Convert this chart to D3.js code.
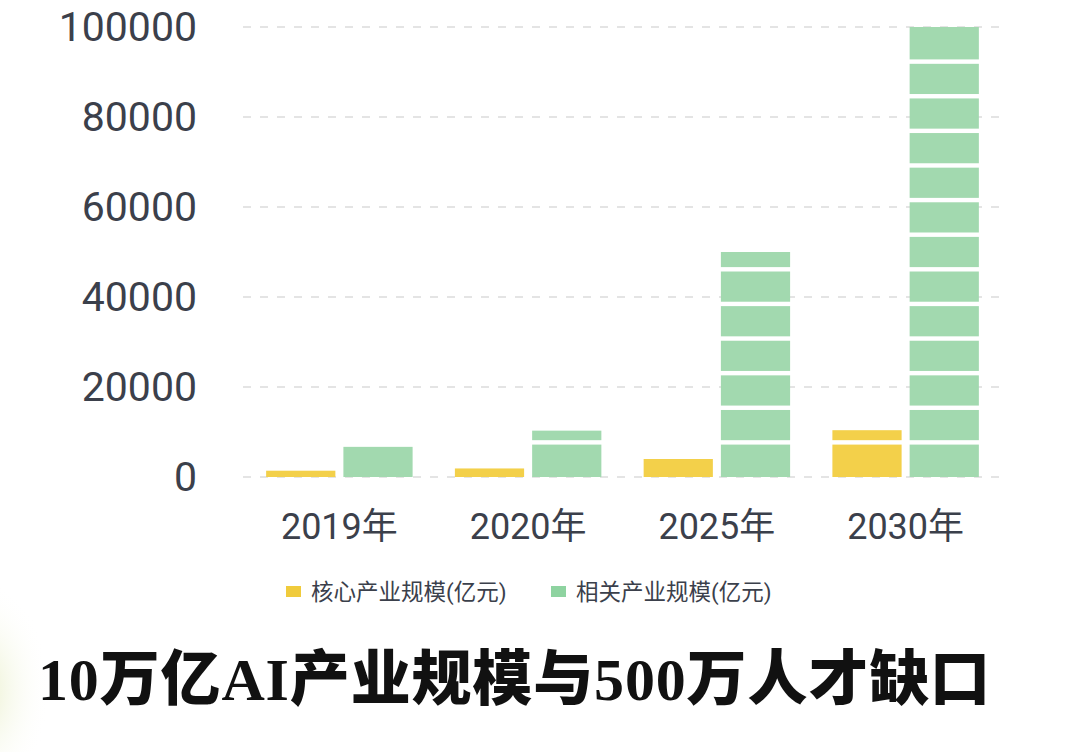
<!DOCTYPE html>
<html>
<head>
<meta charset="utf-8">
<script src="https://cdn.jsdelivr.net/npm/d3@7"></script>
<style>
  html, body { margin: 0; padding: 0; background: #fff; }
  #wrapper { width: 1080px; height: 752px; overflow: hidden; }
</style>
</head>
<body>
<div id="wrapper"></div>
<script>
// Data
const categories = ["2019年", "2020年", "2025年", "2030年"];
const coreValues = [1400, 1900, 4000, 10400];       // 核心产业规模(亿元)
const relatedValues = [6700, 10300, 50000, 100000]; // 相关产业规模(亿元)
const seriesNames = ["核心产业规模(亿元)", "相关产业规模(亿元)"];
const yTicks = [0, 20000, 40000, 60000, 80000, 100000];
const titleText = "10万亿AI产业规模与500万人才缺口";

const colors = ["#f3d04a", "#a2d9af"];
const legendColors = ["#f0cb3c", "#8ed3a0"];
const textColor = "#3b404b";

const drawChart = () => {
    const dimensions = {
        width: 1080,
        height: 752,
        margin: { top: 27, right: 80, bottom: 275, left: 245 },
    };
    dimensions.boundedWidth = dimensions.width - dimensions.margin.left - dimensions.margin.right;
    dimensions.boundedHeight = dimensions.height - dimensions.margin.top - dimensions.margin.bottom;

    const dataset = categories.map((c, i) => ({
        category: c,
        values: [coreValues[i], relatedValues[i]],
    }));

    const wrapper = d3.select("#wrapper")
        .append("svg")
        .attr("width", dimensions.width)
        .attr("height", dimensions.height);

    // faint tint in the lower left corner
    const defs = wrapper.append("defs");
    const grad = defs.append("radialGradient")
        .attr("id", "cornerTint")
        .attr("gradientUnits", "userSpaceOnUse")
        .attr("cx", -20).attr("cy", 690).attr("r", 70)
        .attr("gradientTransform", "translate(-20 690) scale(1 1.6) translate(20 -690)");
    grad.append("stop").attr("offset", "0%").attr("stop-color", "#e9efc9").attr("stop-opacity", 1);
    grad.append("stop").attr("offset", "100%").attr("stop-color", "#ffffff").attr("stop-opacity", 0);
    wrapper.append("rect")
        .attr("x", 0).attr("y", 540)
        .attr("width", 120).attr("height", 212)
        .attr("fill", "url(#cornerTint)");

    const bounds = wrapper.append("g")
        .attr("transform", `translate(${dimensions.margin.left}, ${dimensions.margin.top})`);

    // Scales
    const yScale = d3.scaleLinear()
        .domain([0, 100000])
        .range([dimensions.boundedHeight, 0]);

    const x0 = d3.scaleBand()
        .domain(categories)
        .range([0, dimensions.boundedWidth]);

    const x1 = d3.scaleBand()
        .domain([0, 1])
        .range([x0.bandwidth() * 0.112, x0.bandwidth() * 0.888])
        .paddingInner(0.104);

    // Grid lines
    bounds.append("g")
        .selectAll("line")
        .data(yTicks)
        .join("line")
        .attr("x1", -2)
        .attr("x2", dimensions.boundedWidth)
        .attr("y1", d => yScale(d))
        .attr("y2", d => yScale(d))
        .attr("stroke", "#dcdcdc")
        .attr("stroke-width", 1.6)
        .attr("stroke-dasharray", "8 9");

    // y axis labels
    const yAxisGenerator = d3.axisLeft(yScale)
        .tickValues(yTicks)
        .tickSize(0)
        .tickPadding(48)
        .tickFormat(d3.format("d"));
    const yAxis = bounds.append("g").call(yAxisGenerator);
    yAxis.select(".domain").remove();
    yAxis.selectAll("text")
        .attr("fill", textColor)
        .style("font-family", "Roboto, 'Noto Sans', sans-serif")
        .style("font-size", "41px");

    // Bars
    const groups = bounds.selectAll(".group")
        .data(dataset)
        .join("g")
        .attr("class", "group")
        .attr("transform", d => `translate(${x0(d.category)}, 0)`);

    const segment = 100000 / 13;
    const gapValues = d3.range(1, 13).map(k => k * segment);

    groups.each(function (d) {
        const g = d3.select(this);
        d.values.forEach((v, i) => {
            g.append("rect")
                .attr("x", x1(i))
                .attr("y", yScale(v))
                .attr("width", x1.bandwidth())
                .attr("height", yScale(0) - yScale(v))
                .attr("fill", colors[i]);
            // white separators cut into the bar
            g.selectAll(null)
                .data(gapValues.filter(gv => gv < v - 1500))
                .join("rect")
                .attr("x", x1(i) - 1)
                .attr("y", gv => yScale(gv) - 2.2)
                .attr("width", x1.bandwidth() + 2)
                .attr("height", 4.4)
                .attr("fill", "#ffffff");
        });
    });

    // x axis labels
    const xAxisGenerator = d3.axisBottom(x0)
        .tickSize(0)
        .tickPadding(36);
    const xAxis = bounds.append("g")
        .attr("transform", `translate(0, ${dimensions.boundedHeight})`)
        .call(xAxisGenerator);
    xAxis.select(".domain").remove();
    xAxis.selectAll("text")
        .attr("fill", textColor)
        .style("font-family", "Roboto, 'Noto Sans CJK SC', sans-serif")
        .style("font-size", "36px");

    // Legend
    const legendX = [286, 551];
    const legend = wrapper.append("g");
    seriesNames.forEach((name, i) => {
        legend.append("rect")
            .attr("x", legendX[i])
            .attr("y", 586)
            .attr("width", 15)
            .attr("height", 11)
            .attr("fill", legendColors[i]);
        legend.append("text")
            .attr("x", legendX[i] + 25)
            .attr("y", 592)
            .attr("dy", "0.35em")
            .attr("fill", textColor)
            .style("font-family", "Roboto, 'Noto Sans CJK SC', sans-serif")
            .style("font-size", "22.5px")
            .text(name);
    });

    // Title
    wrapper.append("text")
        .attr("x", 38)
        .attr("y", 700)
        .attr("textLength", 952)
        .attr("lengthAdjust", "spacing")
        .attr("fill", "#111111")
        .style("font-family", "'Liberation Serif', 'Noto Sans CJK SC', serif")
        .style("font-weight", 900)
        .style("font-size", "60px")
        .text(titleText);
};
drawChart();
</script>
</body>
</html>
